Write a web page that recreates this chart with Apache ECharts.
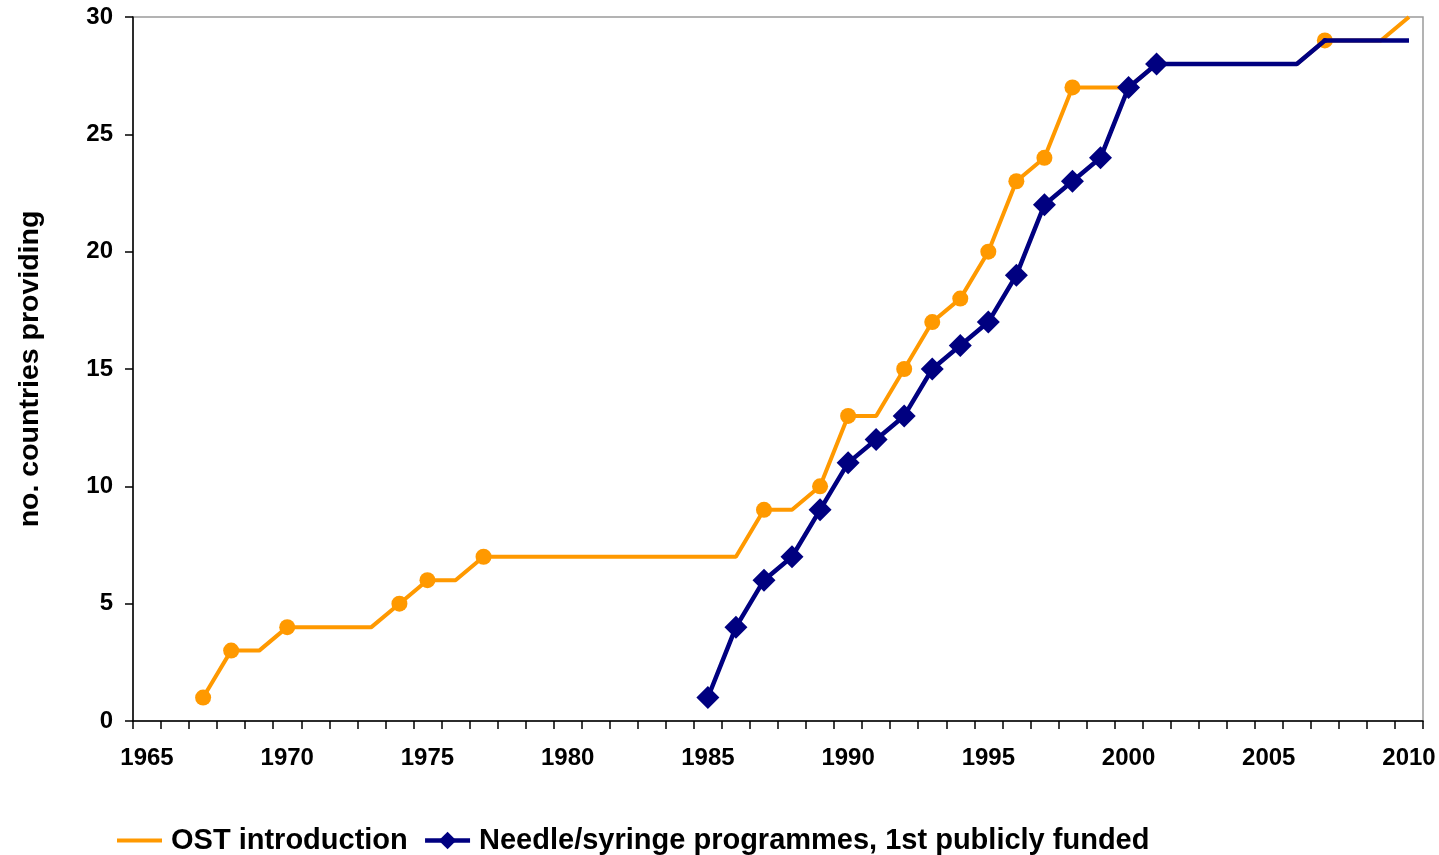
<!DOCTYPE html>
<html>
<head>
<meta charset="utf-8">
<script src="https://cdn.jsdelivr.net/npm/echarts@6/dist/echarts.min.js"></script>
<style>
html,body{margin:0;padding:0;background:#fff;}
#chart{width:1439px;height:855px;}
</style>
</head>
<body>
<div id="chart"></div>
<script>
const years = [];
for (let y = 1965; y <= 2010; y++) years.push(String(y));

const ostName = 'OST introduction';
const nspName = 'Needle/syringe programmes, 1st publicly funded';

// 1965 .. 2010
const ostValues = [null, null, 1, 3, 3, 4, 4, 4, 4, 5, 6, 6, 7, 7, 7, 7, 7, 7, 7, 7, 7, 7,
  9, 9, 10, 13, 13, 15, 17, 18, 20, 23, 24, 27, 27, 27, 28, 28, 28, 28, 28, 28, 29, 29, 29, 30];
const nspValues = [null, null, null, null, null, null, null, null, null, null,
  null, null, null, null, null, null, null, null, null, null,
  1, 4, 6, 7, 9, 11, 12, 13, 15, 16, 17, 19, 22, 23, 24, 27, 28, 28, 28, 28, 28, 28, 29, 29, 29, 29];

const yTicks = { min: 0, max: 30, interval: 5 };

const ORANGE = '#FF9900';
const NAVY = '#000080';

function changed(arr, i) {
  if (arr[i] == null) return false;
  return i === 0 || arr[i - 1] == null || arr[i] !== arr[i - 1];
}

const ostData = ostValues.map((v, i) =>
  (changed(ostValues, i) && i < ostValues.length - 1)
    ? { value: v, symbol: 'circle', symbolSize: 16 }
    : { value: v, symbol: 'none' });

const nspData = nspValues.map((v, i) => {
  if (!changed(nspValues, i)) return { value: v, symbol: 'none' };
  if (Number(years[i]) > 2001) return { value: v, symbol: 'circle', symbolSize: 5 };
  return { value: v };
});

const chart = echarts.init(document.getElementById('chart'), null, { renderer: 'canvas' });
const FONT = '"Liberation Sans", Arial, sans-serif';

chart.setOption({
  animation: false,
  backgroundColor: '#ffffff',
  textStyle: { fontFamily: FONT },
  grid: {
    left: 133, right: 16, top: 17, bottom: 134,
    show: true, borderColor: '#9a9a9a', borderWidth: 1.5, backgroundColor: 'transparent'
  },
  legend: {
    left: 110, top: 821,
    itemWidth: 45, itemHeight: 22, itemGap: 15,
    textStyle: { fontFamily: FONT, fontWeight: 'bold', fontSize: 29, color: '#000', padding: [0, 0, 0, 4] },
    data: [
      { name: ostName, itemStyle: { opacity: 0 }, lineStyle: { width: 4, color: ORANGE } },
      { name: nspName, lineStyle: { width: 4.5, color: NAVY } }
    ]
  },
  xAxis: {
    type: 'category',
    data: years,
    boundaryGap: true,
    axisLine: { lineStyle: { color: '#000', width: 1.5 } },
    axisTick: { show: true, interval: 0, length: 8, lineStyle: { color: '#000', width: 1.5 } },
    axisLabel: {
      interval: 4, margin: 25,
      fontFamily: FONT, fontWeight: 'bold', fontSize: 24, color: '#000'
    },
    splitLine: { show: false }
  },
  yAxis: {
    type: 'value',
    min: yTicks.min, max: yTicks.max, interval: yTicks.interval,
    name: 'no. countries providing',
    nameLocation: 'middle',
    nameGap: 88,
    nameRotate: 90,
    nameTextStyle: { fontFamily: FONT, fontWeight: 'bold', fontSize: 28.5, color: '#000' },
    axisLine: { show: true, lineStyle: { color: '#000', width: 1.5 } },
    axisTick: { show: true, length: 8, lineStyle: { color: '#000', width: 1.5 } },
    axisLabel: { margin: 20, fontFamily: FONT, fontWeight: 'bold', fontSize: 24, color: '#000' },
    splitLine: { show: false }
  },
  series: [
    {
      name: ostName,
      type: 'line',
      data: ostData,
      symbol: 'none',
      showAllSymbol: true,
      connectNulls: false,
      lineStyle: { color: ORANGE, width: 4 },
      itemStyle: { color: ORANGE },
      z: 2
    },
    {
      name: nspName,
      type: 'line',
      data: nspData,
      symbol: 'diamond',
      symbolSize: 23,
      showAllSymbol: true,
      lineStyle: { color: NAVY, width: 4.5 },
      itemStyle: { color: NAVY },
      z: 3
    }
  ]
});
</script>
</body>
</html>
